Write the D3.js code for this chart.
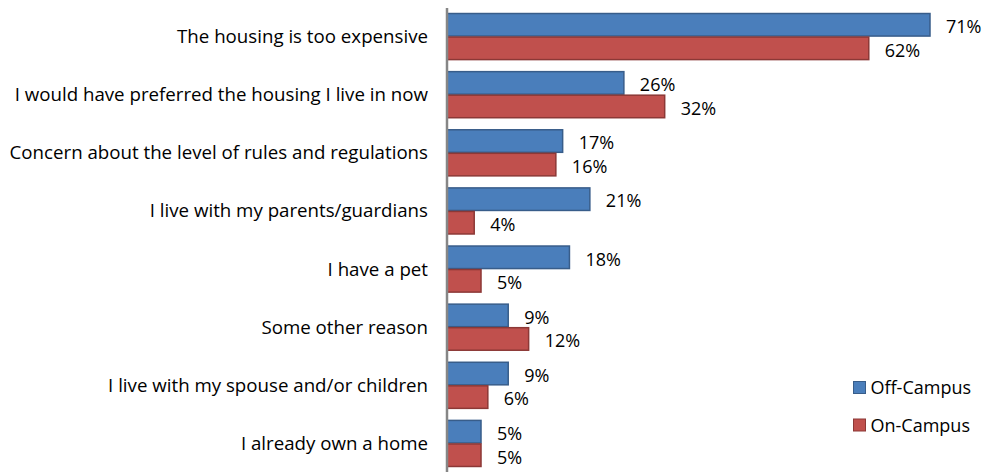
<!DOCTYPE html>
<html>
<head>
<meta charset="utf-8">
<script src="https://cdn.jsdelivr.net/npm/d3@7"></script>
<style>
  html, body { margin: 0; padding: 0; background: #fff; }
  svg text { font-family: "Open Sans", sans-serif; fill: #000; }
</style>
</head>
<body>
<svg id="chart" width="984" height="472"></svg>
<script>
// Reasons for not living in campus housing, by respondent group (%)
const categories = [
  "The housing is too expensive",
  "I would have preferred the housing I live in now",
  "Concern about the level of rules and regulations",
  "I live with my parents/guardians",
  "I have a pet",
  "Some other reason",
  "I live with my spouse and/or children",
  "I already own a home"
];
const seriesNames = ["Off-Campus", "On-Campus"];
const offCampus = [71, 26, 17, 21, 18, 9, 9, 5];
const onCampus  = [62, 32, 16, 4, 5, 12, 6, 5];
const fills   = ["#4a7ebb", "#c0504d"];
const strokes = ["#385d8a", "#8c3836"];

const svg = d3.select("#chart");
const axisX = 447;

const x = d3.scaleLinear().domain([0, 71]).range([axisX, 930]);
const y = d3.scaleBand().domain(categories).range([7.5, 472.5]).paddingInner(0.19).paddingOuter(0.095);
const sub = d3.scaleBand().domain(seriesNames).range([0, y.bandwidth()]);

const rows = categories.map((c, i) => ({ cat: c, vals: [offCampus[i], onCampus[i]] }));

// category labels
svg.append("g").selectAll("text").data(categories).join("text")
  .attr("x", 428)
  .attr("y", d => y(d) + y.bandwidth() / 2)
  .attr("dy", "0.35em")
  .attr("text-anchor", "end")
  .attr("font-size", 18.7)
  .text(d => d);

// bars and value labels
const g = svg.append("g").selectAll("g").data(rows).join("g")
  .attr("transform", d => `translate(0,${y(d.cat)})`);

g.selectAll("rect").data(d => d.vals.map((v, k) => ({ v, k }))).join("rect")
  .attr("x", x(0))
  .attr("y", d => sub(seriesNames[d.k]) + 0.5)
  .attr("width", d => x(d.v) - x(0))
  .attr("height", sub.bandwidth() - 1)
  .attr("fill", d => fills[d.k])
  .attr("stroke", d => strokes[d.k])
  .attr("stroke-width", 1.5);

g.selectAll("text").data(d => d.vals.map((v, k) => ({ v, k }))).join("text")
  .attr("x", d => x(d.v) + 16)
  .attr("y", d => sub(seriesNames[d.k]) + sub.bandwidth() / 2 + 2)
  .attr("dy", "0.35em")
  .attr("font-size", 18)
  .text(d => d.v + "%");

// vertical category axis line
svg.append("line")
  .attr("x1", axisX).attr("x2", axisX)
  .attr("y1", 8).attr("y2", 472)
  .attr("stroke", "#868686").attr("stroke-width", 2.5);

// legend
const legend = svg.append("g").selectAll("g").data(seriesNames).join("g")
  .attr("transform", (d, i) => `translate(853.5,${381.5 + i * 37.5})`);
legend.append("rect")
  .attr("width", 12).attr("height", 12)
  .attr("fill", (d, i) => fills[i])
  .attr("stroke", (d, i) => strokes[i]).attr("stroke-width", 1);
legend.append("text")
  .attr("x", 17).attr("y", 6.5).attr("dy", "0.35em")
  .attr("font-size", 18)
  .text(d => d);
</script>
</body>
</html>
